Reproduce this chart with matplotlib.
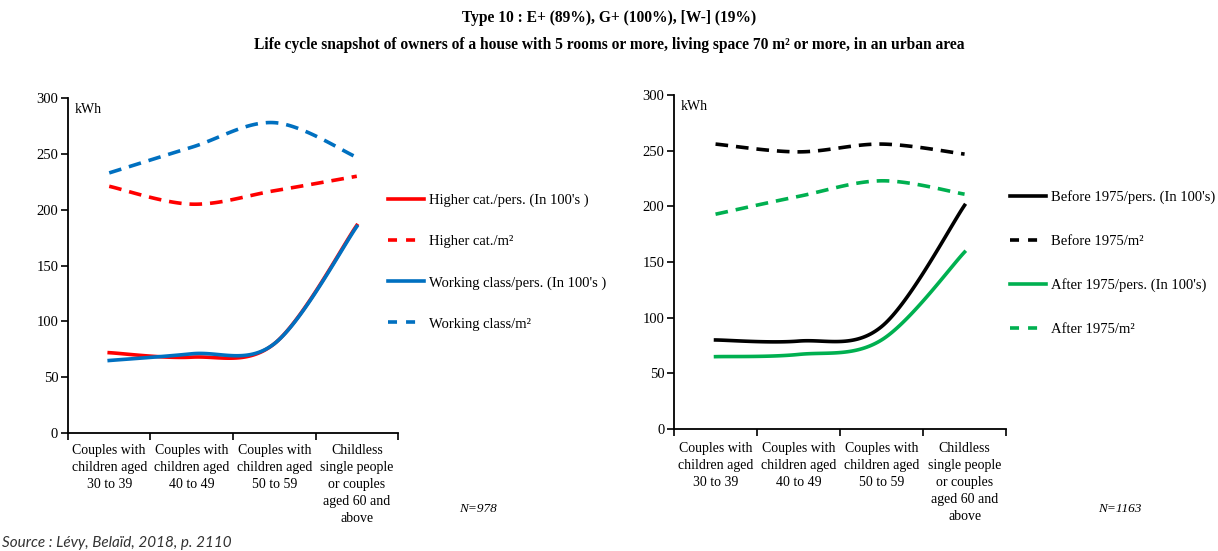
import numpy as np
import matplotlib.pyplot as plt
from matplotlib.lines import Line2D

plt.rcParams['font.family'] = ['Liberation Serif', 'DejaVu Serif']

categories = ['Couples with\nchildren aged\n30 to 39',
              'Couples with\nchildren aged\n40 to 49',
              'Couples with\nchildren aged\n50 to 59',
              'Childless\nsingle people\nor couples\naged 60 and\nabove']

# left panel: social category
higher_pers = [72, 68, 80, 186]
higher_m2 = [221, 205, 217, 230]
working_pers = [65, 71, 80, 185]
working_m2 = [233, 256, 278, 247]

# right panel: construction period
before_pers = [80, 79, 92, 201]
before_m2 = [256, 249, 256, 247]
after_pers = [65, 67, 80, 159]
after_m2 = [193, 209, 223, 211]

RED = '#ff0000'
BLUE = '#0070c0'
BLACK = '#000000'
GREEN = '#00b050'


def smooth(y, n=40):
    # excel-like smoothed line (catmull-rom through the points)
    y = np.asarray(y, float)
    x = np.arange(len(y), dtype=float)
    px = np.concatenate([[x[0]], x, [x[-1]]])
    py = np.concatenate([[y[0]], y, [y[-1]]])
    xs, ys = [], []
    for i in range(len(y) - 1):
        p0x, p1x, p2x, p3x = px[i:i + 4]
        p0y, p1y, p2y, p3y = py[i:i + 4]
        t = np.linspace(0, 1, n)
        c1x, c1y = p1x + (p2x - p0x) / 6, p1y + (p2y - p0y) / 6
        c2x, c2y = p2x - (p3x - p1x) / 6, p2y - (p3y - p1y) / 6
        b = [(1 - t) ** 3, 3 * (1 - t) ** 2 * t, 3 * (1 - t) * t ** 2, t ** 3]
        xs.append(b[0] * p1x + b[1] * c1x + b[2] * c2x + b[3] * p2x)
        ys.append(b[0] * p1y + b[1] * c1y + b[2] * c2y + b[3] * p2y)
    return np.concatenate(xs), np.concatenate(ys)


def style_axes(ax, pad):
    ax.set_xlim(-0.5, 3.5)
    ax.set_ylim(0, 300)
    ax.set_yticks(range(0, 301, 50))
    ax.set_xticks(np.arange(-0.5, 3.6, 1))
    ax.set_xticklabels([])
    ax.set_xticks(range(4), minor=True)
    ax.set_xticklabels(categories, minor=True, fontsize=10, linespacing=1.4, va='top')
    ax.tick_params(axis='x', which='minor', length=0, pad=pad)
    ax.tick_params(axis='x', which='major', length=5, width=1.2)
    ax.tick_params(axis='y', length=5, width=1.2, labelsize=10.5, pad=2)
    for s in ['top', 'right']:
        ax.spines[s].set_visible(False)
    for s in ['left', 'bottom']:
        ax.spines[s].set_linewidth(1.3)
    ax.text(0.02, 0.985, 'kWh', transform=ax.transAxes, fontsize=10, va='top')


fig = plt.figure(figsize=(12.18, 5.51), dpi=100)
ax1 = fig.add_axes([0.0558, 0.214, 0.271, 0.608])
ax2 = fig.add_axes([0.5534, 0.2214, 0.2726, 0.606])

lw = 2.6
dash = (3.5, 2.2)
left_series = [(higher_pers, RED, '-', "Higher cat./pers. (In 100's )"),
               (higher_m2, RED, '--', 'Higher cat./m²'),
               (working_pers, BLUE, '-', "Working class/pers. (In 100's )"),
               (working_m2, BLUE, '--', 'Working class/m²')]
right_series = [(before_pers, BLACK, '-', "Before 1975/pers. (In 100's)"),
                (before_m2, BLACK, '--', 'Before 1975/m²'),
                (after_pers, GREEN, '-', "After 1975/pers. (In 100's)"),
                (after_m2, GREEN, '--', 'After 1975/m²')]

for ax, series, anchor, sp, pad in [(ax1, left_series, (388 / 1218, 1 - 194 / 551), 1.9, 8),
                                    (ax2, right_series, (1010 / 1218, 1 - 190 / 551), 2.1, 9)]:
    handles = []
    for vals, col, ls, lab in series:
        xs, ys = smooth(vals)
        if ls == '--':
            ax.plot(xs, ys, color=col, lw=lw, dashes=dash, solid_capstyle='butt')
            handles.append(Line2D([], [], color=col, lw=lw, dashes=(2.5, 2.5), label=lab))
        else:
            ax.plot(xs, ys, color=col, lw=lw)
            handles.append(Line2D([], [], color=col, lw=lw, label=lab))
    style_axes(ax, pad)
    fig.legend(handles=handles, loc='upper left', bbox_to_anchor=anchor,
               frameon=False, fontsize=10.5, handlelength=2.5, handletextpad=0.3,
               labelspacing=sp, borderpad=0, borderaxespad=0)

fig.text(0.5, 1 - 18 / 551, 'Type 10 : E+ (89%), G+ (100%), [W-] (19%)',
         ha='center', va='center', fontsize=11.2, fontweight='bold')
fig.text(0.5, 1 - 45 / 551,
         'Life cycle snapshot of owners of a house with 5 rooms or more, living space 70 m² or more, in an urban area',
         ha='center', va='center', fontsize=11.2, fontweight='bold')

fig.text(478 / 1218, 1 - 509 / 551, 'N=978', ha='center', va='center', fontsize=9.5, style='italic')
fig.text(1120 / 1218, 1 - 509 / 551, 'N=1163', ha='center', va='center', fontsize=9.5, style='italic')

fig.text(2 / 1218, 1 - 543 / 551, 'Source : Lévy, Belaïd, 2018, p. 2110', ha='left', va='center',
         fontsize=11, style='italic', color='#333333', family=['Lato', 'DejaVu Sans'])

fig.savefig('out.png', dpi=100)
